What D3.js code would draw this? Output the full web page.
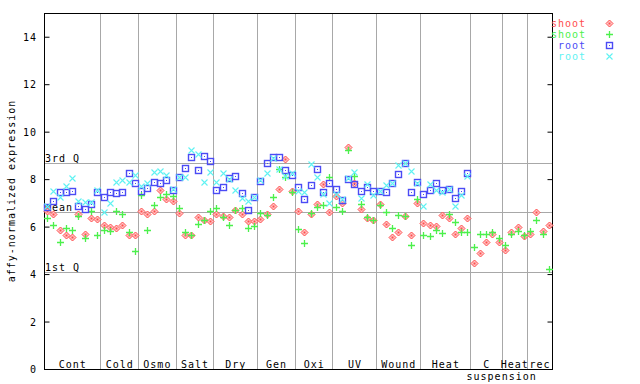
<!DOCTYPE html>
<html>
<head>
<meta charset="utf-8">
<script src="https://cdn.jsdelivr.net/npm/d3@7/dist/d3.min.js"></script>
<style>
  html, body { margin: 0; padding: 0; background: #fff; }
  svg text { font-family: "DejaVu Sans Mono", monospace; font-size: 10px; letter-spacing: 1px; }
</style>
</head>
<body>
<svg id="chart" width="640" height="384"></svg>
<script>
// ---- data ----
const groupNames = ["Cont","Cold","Osmo","Salt","Dry","Gen","Oxi","UV","Wound","Heat","C\nsuspension","Heat","rec"];
const groupSizes = [9,6,6,6,7,6,6,7,7,8,5,4,4];

const shootRed = [
  6.67,6.54,5.86,5.64,5.56,6.53,5.68,6.35,6.32,
  6.08,5.98,5.92,6.08,5.64,5.64,
  6.64,6.53,6.64,7.55,7.16,7.09,
  6.57,5.64,5.64,6.40,6.26,6.24,
  6.55,6.46,6.40,6.69,6.51,6.24,6.22,
  6.32,6.53,6.88,7.59,8.85,7.51,
  6.67,5.77,6.54,6.95,7.79,6.61,
  7.30,6.99,9.37,7.82,6.76,6.36,6.29,
  6.95,6.10,5.58,5.79,6.46,5.65,7.00,
  6.15,6.08,6.03,6.48,6.36,5.70,5.95,6.36,
  4.46,4.88,5.35,5.68,5.35,
  5.02,5.77,5.98,5.61,
  5.68,6.61,5.82,6.08
];
const shootGreen = [
  6.36,6.08,5.36,5.94,5.86,6.43,5.53,6.67,5.63,
  5.86,5.81,6.67,6.54,5.79,4.98,
  7.34,5.86,6.90,7.24,7.38,7.28,
  6.78,5.79,5.65,6.10,6.26,6.65,
  6.78,6.40,6.06,6.72,6.78,5.96,6.03,
  6.57,6.49,7.24,8.42,8.10,7.47,
  5.89,5.30,6.58,6.82,6.90,8.10,
  6.82,6.65,9.24,8.13,6.96,6.40,6.29,
  6.89,6.61,5.92,6.49,6.46,5.23,7.17,
  5.64,5.60,5.86,5.73,6.53,6.20,5.78,5.78,
  5.13,5.68,5.68,5.78,5.50,
  5.23,5.68,5.82,5.64,
  5.82,6.29,5.68,4.20
];
const rootBlue = [
  6.82,7.09,7.45,7.47,7.50,6.86,6.73,6.96,7.44,
  7.24,7.45,7.43,7.45,8.25,7.83,
  7.50,7.62,7.90,7.85,7.95,7.55,
  8.07,8.48,8.93,8.38,8.99,8.76,
  7.54,7.66,8.03,8.13,7.41,6.69,7.24,
  7.92,8.68,8.95,8.95,8.38,8.19,
  7.67,7.16,7.75,8.43,7.45,7.83,
  7.58,7.12,8.00,7.81,7.50,7.67,7.50,
  7.50,7.47,7.83,8.23,8.68,7.47,7.88,
  7.37,7.54,7.83,7.54,7.57,7.20,7.50,8.25,
  null,null,null,null,null,
  null,null,null,null,
  null,null,null,null
];
const rootCyan = [
  6.88,7.48,7.23,7.71,8.06,7.09,7.02,7.02,7.55,
  6.62,7.00,7.87,7.97,7.90,8.19,
  7.72,7.85,8.30,8.35,8.19,7.60,
  8.09,8.10,9.23,9.07,7.87,8.30,
  7.89,8.25,7.99,7.54,7.20,7.09,7.25,
  7.96,8.24,8.87,8.41,8.14,8.25,
  7.50,7.47,8.64,8.11,7.38,7.00,
  7.38,7.18,8.06,8.28,7.20,7.81,7.33,
  7.51,7.74,7.83,8.59,8.68,8.35,7.82,
  6.88,7.81,7.54,7.45,7.57,6.88,7.32,8.13,
  null,null,null,null,null,
  null,null,null,null,
  null,null,null,null
];
const yTicks = [0,2,4,6,8,10,12,14];
const refLines = [
  {label: "3rd Q", value: 8.68},
  {label: "mean",  value: 6.61},
  {label: "1st Q", value: 4.08}
];
const seriesLabels = ["shoot","shoot","root","root"];
const seriesColors = ["#ff4d4d","#4cf04c","#4b4bf5","#5ff2f2"];
const seriesShapes = ["diamond","plus","square","cross"];
const seriesData = [shootRed, shootGreen, rootBlue, rootCyan];

// ---- layout ----
const svg = d3.select("#chart");
const L = 44, R = 552, T = 13, B = 369;
const nSamples = d3.sum(groupSizes);
const x = d3.scaleLinear().domain([0, nSamples]).range([L, R]);
const y = d3.scaleLinear().domain([0, 15]).range([B, T]);
const grid = "#a8a8a8";

// group boundaries
const bounds = [0];
groupSizes.forEach(s => bounds.push(bounds[bounds.length-1] + s));

const gGrid = svg.append("g");
gGrid.selectAll("line.v").data(bounds.slice(1, -1)).join("line")
  .attr("x1", d => Math.round(x(d)) + 0.5).attr("x2", d => Math.round(x(d)) + 0.5)
  .attr("y1", T).attr("y2", B)
  .attr("stroke", grid).attr("stroke-width", 1);
gGrid.selectAll("line.h").data(refLines).join("line")
  .attr("x1", L).attr("x2", R)
  .attr("y1", d => Math.round(y(d.value)) + 0.5).attr("y2", d => Math.round(y(d.value)) + 0.5)
  .attr("stroke", grid).attr("stroke-width", 1);
svg.append("g").selectAll("text").data(refLines).join("text")
  .attr("x", L + 1).attr("y", d => Math.round(y(d.value)) - 1)
  .attr("fill", "#000").text(d => d.label);

// group labels
const gLab = svg.append("g");
groupNames.forEach((name, i) => {
  const cx = x((bounds[i] + bounds[i+1]) / 2);
  const lines = name.split("\n");
  lines.forEach((ln, j) => {
    gLab.append("text")
      .attr("x", cx + (j > 0 ? 15 : 0) + 0.5)
      .attr("y", B - 1 + j * 12)
      .attr("text-anchor", "middle")
      .attr("fill", "#000")
      .text(ln);
  });
});

// frame
svg.append("rect").attr("x", L + 0.5).attr("y", T + 0.5)
  .attr("width", R - L).attr("height", B - T)
  .attr("fill", "none").attr("stroke", "#000").attr("stroke-width", 1);

// axes (inward ticks)
const yAxisL = d3.axisRight(y).tickValues(yTicks).tickSize(5).tickFormat("");
svg.append("g").attr("transform", `translate(${L + 0.5},0)`).call(yAxisL)
  .call(g => g.select(".domain").remove())
  .selectAll("line").attr("stroke", "#000");
const yAxisR = d3.axisLeft(y).tickValues(yTicks).tickSize(5).tickFormat("");
svg.append("g").attr("transform", `translate(${R + 0.5},0)`).call(yAxisR)
  .call(g => g.select(".domain").remove())
  .selectAll("line").attr("stroke", "#000");
svg.append("g").selectAll("text").data(yTicks).join("text")
  .attr("x", 37).attr("y", d => y(d) + 4)
  .attr("text-anchor", "end").attr("fill", "#000").text(d => d);

svg.append("text")
  .attr("transform", `translate(15,${(T + B) / 2}) rotate(-90)`)
  .attr("text-anchor", "middle").attr("fill", "#000")
  .text("affy-normalized expression");

// markers
function drawMarker(g, shape, cx, cy, color) {
  cx = Math.round(cx) + 0.5; cy = Math.round(cy) + 0.5;
  if (shape === "diamond") {
    const r = 3.5;
    g.append("path").attr("d", `M${cx},${cy-r}L${cx+r},${cy}L${cx},${cy+r}L${cx-r},${cy}Z`)
      .attr("fill", "#ffc8c8").attr("stroke", color).attr("stroke-width", 1);
    g.append("rect").attr("x", cx - 1).attr("y", cy - 1).attr("width", 2).attr("height", 2).attr("fill", color);
  } else if (shape === "plus") {
    const r = 3.5;
    g.append("path").attr("d", `M${cx-r},${cy}H${cx+r}M${cx},${cy-r}V${cy+r}`)
      .attr("stroke", color).attr("stroke-width", 1.3).attr("fill", "none");
  } else if (shape === "square") {
    const r = 3;
    g.append("rect").attr("x", cx - r).attr("y", cy - r).attr("width", 2*r).attr("height", 2*r)
      .attr("fill", "none").attr("stroke", color).attr("stroke-width", 1.4);
    g.append("rect").attr("x", cx - 0.5).attr("y", cy - 0.5).attr("width", 1).attr("height", 1).attr("fill", color);
  } else {
    const r = 3;
    g.append("path").attr("d", `M${cx-r},${cy-r}L${cx+r},${cy+r}M${cx-r},${cy+r}L${cx+r},${cy-r}`)
      .attr("stroke", color).attr("stroke-width", 1.1).attr("fill", "none");
  }
}

const gPts = svg.append("g");
seriesData.forEach((arr, s) => {
  arr.forEach((v, i) => {
    if (v == null) return;
    drawMarker(gPts, seriesShapes[s], x(i + 0.5), y(v), seriesColors[s]);
  });
});

// legend
const gLeg = svg.append("g");
seriesLabels.forEach((lab, s) => {
  const ly = 23 + s * 11;
  gLeg.append("text").attr("x", 586).attr("y", ly + 4)
    .attr("text-anchor", "end").attr("fill", seriesColors[s]).text(lab);
  drawMarker(gLeg, seriesShapes[s], 609, ly, seriesColors[s]);
});
</script>
</body>
</html>
